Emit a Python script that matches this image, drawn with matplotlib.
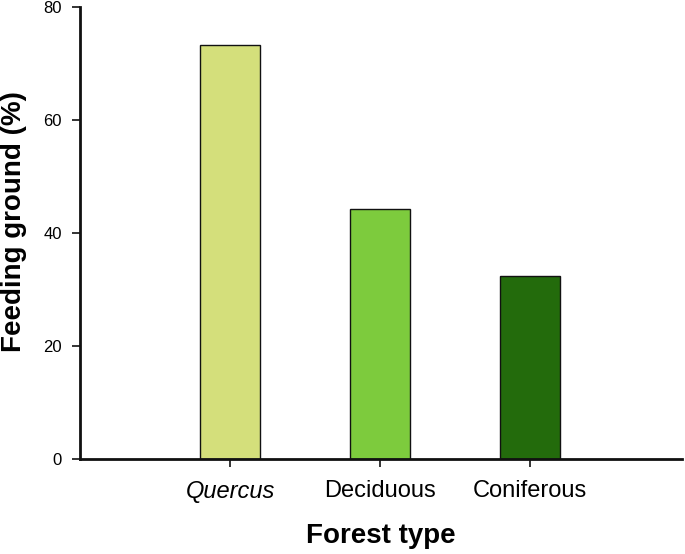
import matplotlib
matplotlib.use("Agg")
import matplotlib.pyplot as plt

categories = ["Quercus", "Deciduous", "Coniferous"]
values = [73.3, 44.2, 32.4]
colors = ["#d4df7b", "#7dcb3d", "#236b0c"]
yticks = [0, 20, 40, 60, 80]

plt.rcParams['font.family'] = ['Liberation Sans', 'DejaVu Sans']

fig = plt.figure(figsize=(6.85, 5.54), dpi=100)
ax = fig.add_axes([80/685, 1-459/554, (682-80)/685, (459-7)/554])

x = [1, 2, 3]
ax.bar(x, values, width=0.4, color=colors, edgecolor="#111111", linewidth=1.0, zorder=2)

ax.set_xlim(0, 4.01)
ax.set_ylim(0, 80)
ax.set_yticks(yticks)
ax.set_yticklabels([str(v) for v in yticks], fontsize=12)
ax.set_xticks(x)
ax.set_xticklabels(categories, fontsize=17)
ax.get_xticklabels()[0].set_fontstyle("italic")

for s in ["top", "right"]:
    ax.spines[s].set_visible(False)
for s in ["left", "bottom"]:
    ax.spines[s].set_linewidth(2.0)
    ax.spines[s].set_color("#111111")

ax.tick_params(axis="both", direction="out", length=6, width=1.2, color="#111111")
ax.tick_params(axis="x", pad=9)
ax.tick_params(axis="y", pad=7)

fig.text(0.5 * (80 + 682) / 685, 1 - 536/554, "Forest type", fontsize=20,
         fontweight="bold", ha="center", va="center")
fig.text(14/685, 1 - 222/554, "Feeding ground (%)", fontsize=20, fontweight="bold",
         ha="center", va="center", rotation=90)

fig.savefig("out.png", dpi=100)
